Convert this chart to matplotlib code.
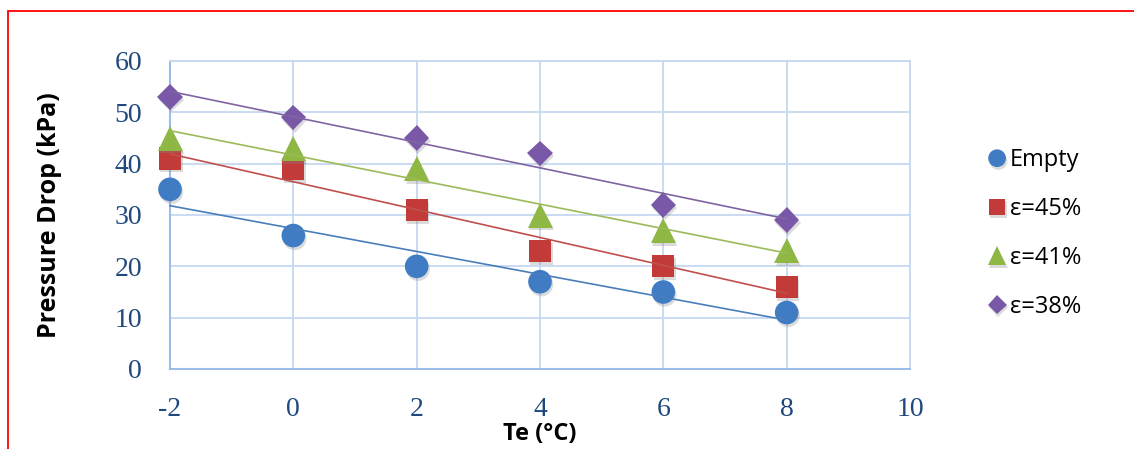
import numpy as np
import matplotlib.pyplot as plt
import matplotlib.patheffects as pe
from matplotlib.patches import Rectangle

plt.rcParams['axes.unicode_minus'] = False

# dados
te = [-2, 0, 2, 4, 6, 8]
empty = [35, 26, 20, 17, 15, 11]
eps45 = [41, 39, 31, 23, 20, 16]
eps41 = [45, 43, 39, 30, 27, 23]
eps38 = [53, 49, 45, 42, 32, 29]

series = [
    ('Empty', empty, 'o', '#3f7cc4', 17),
    ('ε=45%', eps45, 's', '#c23b38', 16),
    ('ε=41%', eps41, '^', '#8fb744', 18),
    ('ε=38%', eps38, 'D', '#7a58a8', 13),
]
trend_colors = ['#4a7ebb', '#c0504d', '#9bbb59', '#8064a2']

fig = plt.figure(figsize=(11.34, 4.49), dpi=100)
ax = fig.add_axes([170 / 1134, 80 / 449, 740 / 1134, 308 / 449])

# moldura vermelha
fig.patches.append(Rectangle((8 / 1134, -0.1), 1.2, (449 - 11) / 449 + 0.1,
                             transform=fig.transFigure, fill=False,
                             edgecolor='#ff0000', linewidth=1.3))

shadow = [pe.SimplePatchShadow(offset=(1, -2), shadow_rgbFace='#888888', alpha=0.3), pe.Normal()]

for (label, ys, mk, col, ms), tcol in zip(series, trend_colors):
    ax.plot(te, ys, linestyle='none', marker=mk, color=col, markersize=ms,
            markeredgewidth=0, label=label, zorder=3, path_effects=shadow,
            clip_on=False)
    # linha de tendência linear (como no Excel)
    a, b = np.polyfit(te, ys, 1)
    xs = np.array([te[0], te[-1]])
    ax.plot(xs, a * xs + b, color=tcol, linewidth=1.2, zorder=4, clip_on=False)

ax.set_xlim(-2, 10)
ax.set_ylim(0, 60)
ax.set_xticks(range(-2, 11, 2))
ax.set_yticks(range(0, 61, 10))
ax.grid(True, color='#c6d9f1', linewidth=1.3)
ax.set_axisbelow(True)
for s in ['top', 'right']:
    ax.spines[s].set_color('#c6d9f1')
    ax.spines[s].set_linewidth(1.3)
for s in ['left', 'bottom']:
    ax.spines[s].set_color('#9dbde6')
    ax.spines[s].set_linewidth(1.5)
ax.tick_params(length=0, labelsize=20, labelcolor='#1f497d')
ax.tick_params(axis='y', pad=20)
ax.tick_params(axis='x', pad=20)
for t in ax.get_xticklabels() + ax.get_yticklabels():
    t.set_fontfamily('Liberation Serif')

ax.set_xlabel('Te (°C)', fontsize=17, fontweight='bold', family='Open Sans', labelpad=0)
ax.set_ylabel('Pressure Drop (kPa)', fontsize=18, fontweight='bold', family='Open Sans', labelpad=38)

leg = ax.legend(loc='upper left', bbox_to_anchor=(1.073, 0.785), frameon=False,
                prop={'family': 'Open Sans', 'size': 17}, labelspacing=1.05,
                handletextpad=0.05, handlelength=1.0, markerscale=0.75)

fig.savefig('out.png', dpi=100)
